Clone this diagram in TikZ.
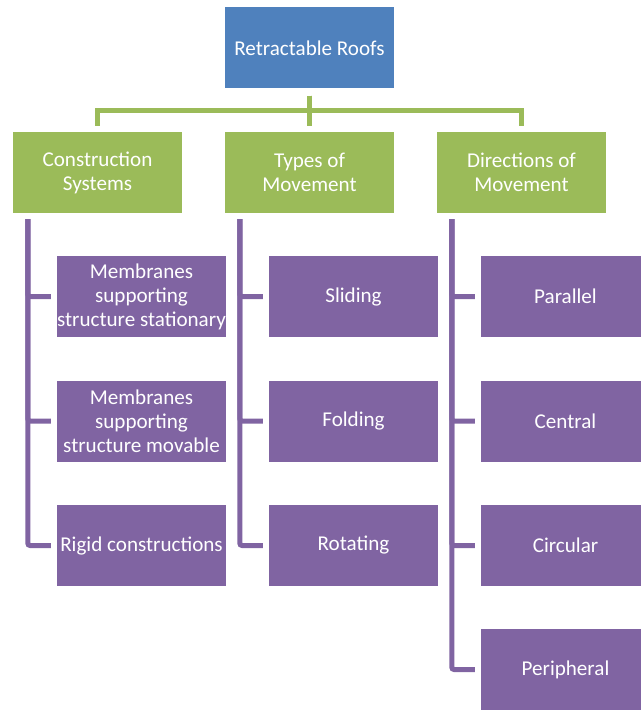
\documentclass[tikz,border=0pt]{standalone}
\usepackage{fontspec}
\setmainfont{Carlito}
\definecolor{roofblue}{HTML}{4F81BD}
\definecolor{catgreen}{HTML}{9BBB59}
\definecolor{itempurple}{HTML}{8064A2}
\begin{document}
\begin{tikzpicture}[x=0.03cm,y=-0.03cm,
  box/.style={minimum width=5.07cm,minimum height=2.43cm,inner xsep=0pt,align=center,text=white,font=\fontsize{18}{20.5}\selectfont},
  rootbox/.style={box,fill=roofblue},
  catbox/.style={box,fill=catgreen},
  itembox/.style={box,fill=itempurple},
  branch/.style={draw=catgreen,line width=0.15cm,shorten <=0.21cm,shorten >=0.18cm},
  stem/.style={draw=itempurple,line width=0.15cm,rounded corners=2pt,shorten <=0.18cm,shorten >=0.18cm}]
\useasboundingbox (0,0) rectangle (640,711);
\node(roofs)[rootbox] at (309.5,48){Retractable Roofs};
\node(construction)[catbox] at (97.5,172.5){Construction\\Systems};
\node(movement)[catbox] at (309.5,172.5){Types of\\Movement};
\node(directions)[catbox] at (521.5,172.5){Directions of\\Movement};
\node(stationary)[itembox] at (141.5,296.5){Membranes\\supporting\\structure stationary};
\node(movable)[itembox] at (141.5,421){Membranes\\supporting\\structure movable};
\node(rigid)[itembox] at (141.5,545.5){Rigid constructions};
\node(sliding)[itembox] at (353.5,296.5){Sliding};
\node(folding)[itembox] at (353.5,421){Folding};
\node(rotating)[itembox] at (353.5,545.5){Rotating};
\node(parallel)[itembox] at (565.5,296.5){Parallel};
\node(central)[itembox] at (565.5,421){Central};
\node(circular)[itembox] at (565.5,545.5){Circular};
\node(peripheral)[itembox] at (565.5,669.5){Peripheral};
\path[branch] (roofs) -- (movement);
\path[branch] (roofs.south) -- ++(0,22) -| (construction.north);
\path[branch] (roofs.south) -- ++(0,22) -| (directions.north);
\path[stem] ([xshift=0.45cm]construction.south west) |- (stationary);
\path[stem] ([xshift=0.45cm]construction.south west) |- (movable);
\path[stem] ([xshift=0.45cm]construction.south west) |- (rigid);
\path[stem] ([xshift=0.45cm]movement.south west) |- (sliding);
\path[stem] ([xshift=0.45cm]movement.south west) |- (folding);
\path[stem] ([xshift=0.45cm]movement.south west) |- (rotating);
\path[stem] ([xshift=0.45cm]directions.south west) |- (parallel);
\path[stem] ([xshift=0.45cm]directions.south west) |- (central);
\path[stem] ([xshift=0.45cm]directions.south west) |- (circular);
\path[stem] ([xshift=0.45cm]directions.south west) |- (peripheral);
\end{tikzpicture}
\end{document}
